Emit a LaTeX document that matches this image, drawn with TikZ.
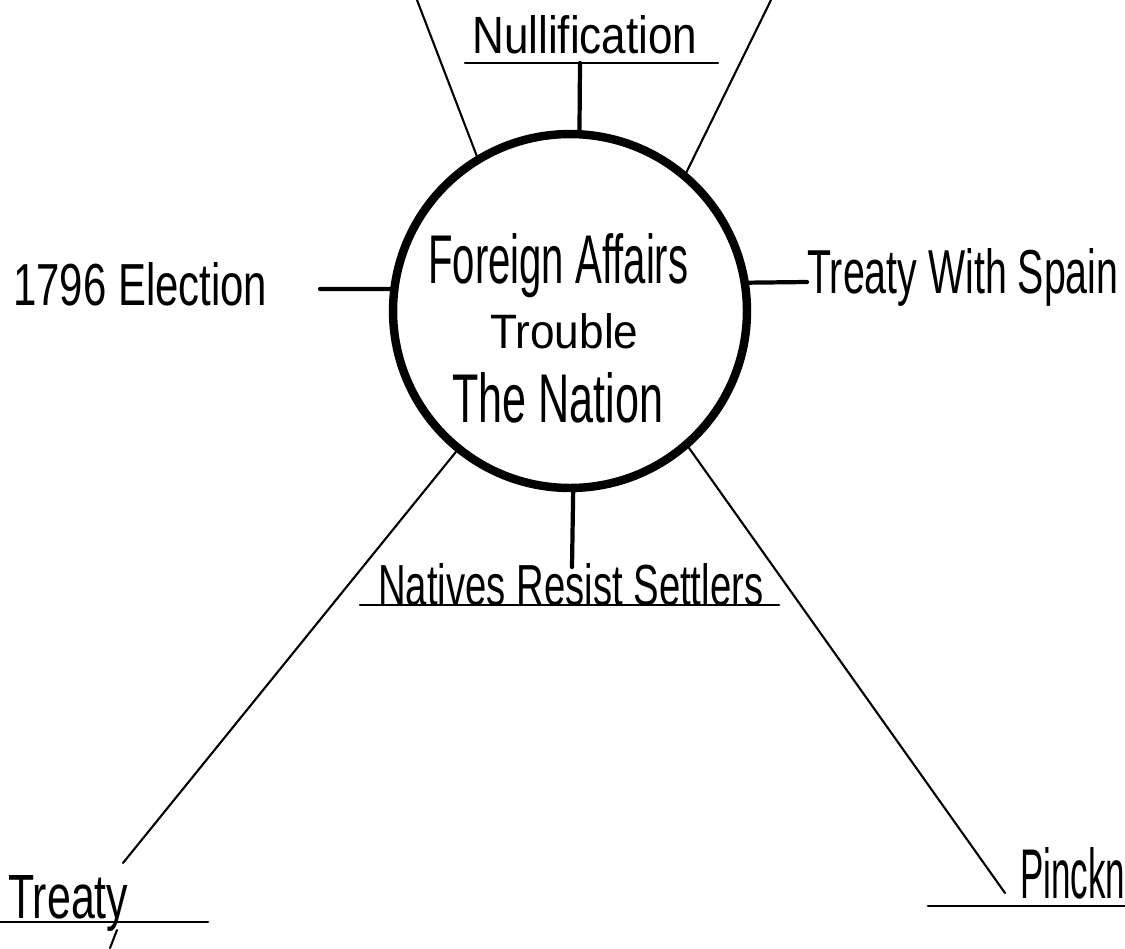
\documentclass[tikz,border=0pt]{standalone}
\usepackage{fontspec}
\setmainfont{Liberation Sans}
\usepackage{graphicx}
\newlength\px
\setlength\px{0.02cm}
\newcommand\fitt[3]{\resizebox{#1\px}{#2\px}{#3}}
\begin{document}
\begin{tikzpicture}[x=0.02cm,y=-0.02cm,
 lbl/.style={inner sep=0pt, anchor=base west, font=\fontsize{30}{30}\selectfont},
 ring/.style={circle, draw, line width=4.8pt, minimum size=7.08cm, inner sep=0pt},
 spoke/.style={line width=2.4pt, line cap=round},
 ray/.style={line width=1.2pt, line cap=round},
 uline/.style={line width=1.3pt, line cap=round}]
\useasboundingbox (0,0) rectangle (1125,948);
\fill[white] (0,0) rectangle (1125,948);
\node[ring] (hub) at (570,311) {};
% texts
\node[lbl] (null) at (472,53) {\fitt{225}{38}{Nullification}};
\node[lbl] (elec) at (13,305) {\fitt{254}{43}{1796 Election}};
\node[lbl] (spain) at (807,293) {\fitt{311}{45}{Treaty With Spain}};
\node[lbl] (t1) at (428,283) {\fitt{260}{50}{Foreign Affairs}};
\node[lbl] (t2) at (490,348) {\fitt{148}{35}{Trouble}};
\node[lbl] (t3) at (452,422) {\fitt{211}{50}{The Nation}};
\node[lbl] (natives) at (378,605) {\fitt{385}{42}{Natives Resist Settlers}};
\node[lbl] (treaty) at (8,918) {\fitt{120}{43}{Treaty}};
\node[lbl] (pinck) at (1020,898) {\fitt{105}{51}{Pinckn}};
% coordinates
\coordinate (nullL) at (465,63);
\coordinate (nullR) at (718,63);
\coordinate (nullS) at (580,63);
\coordinate (tl) at (417,0);
\coordinate (tr) at (771,0);
\coordinate (lE) at (320,289);
\coordinate (rE) at (807,282);
\coordinate (bE) at (572,567);
\coordinate (nL) at (360,605);
\coordinate (nR) at (779,605);
\coordinate (blE) at (123,863);
\coordinate (brE) at (1005,893);
\coordinate (trL) at (0,922);
\coordinate (trR) at (208,922);
\coordinate (pkL) at (928,906);
\coordinate (pkR) at (1125,906);
\coordinate (yA) at (117,930);
\coordinate (yB) at (110,948);
% connectors
\draw[uline] (nullL) -- (nullR);
\draw[spoke] (hub.87) -- (nullS);
\draw[ray] (hub.121) -- (tl);
\draw[ray] (hub.50) -- (tr);
\draw[spoke] (hub.173) -- (lE);
\draw[spoke] (hub.9.6) -- (rE);
\draw[spoke] (hub.-89) -- (bE);
\draw[uline] (nL) -- (nR);
\draw[ray] (hub.-129) -- (blE);
\draw[ray] (hub.-49) -- (brE);
\draw[uline] (trL) -- (trR);
\draw[uline] (pkL) -- (pkR);
\draw[ray] (yA) -- (yB);
\end{tikzpicture}
\end{document}
